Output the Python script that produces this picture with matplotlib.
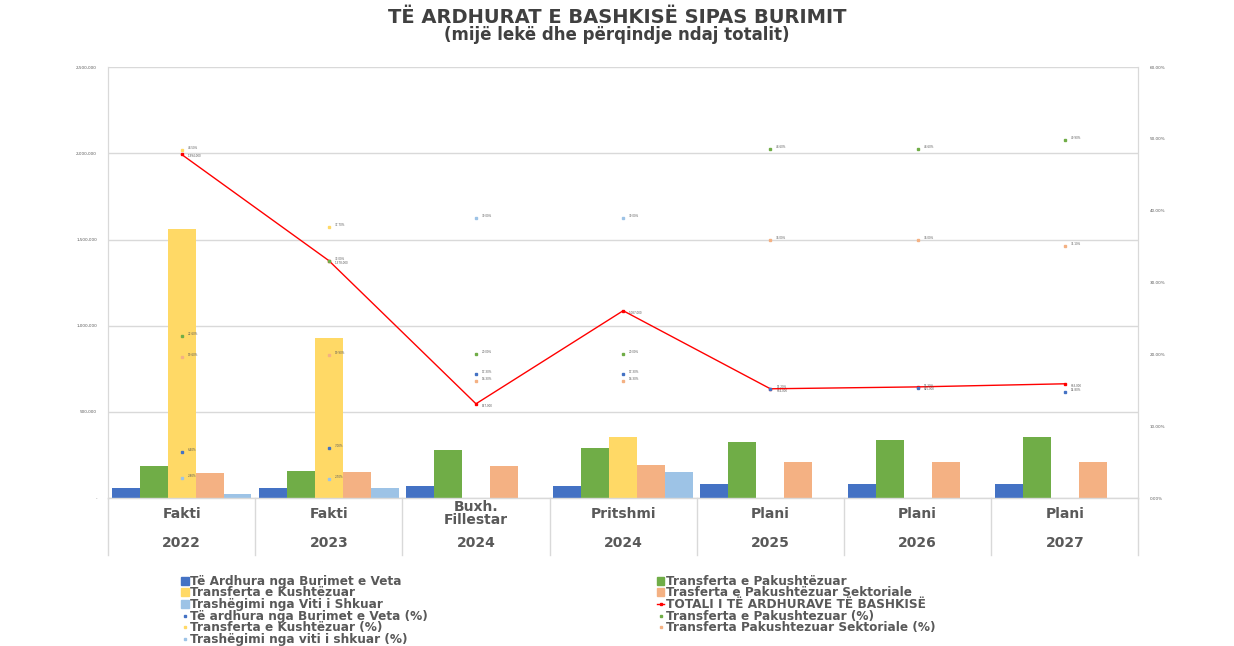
import numpy as np
import matplotlib
matplotlib.use("Agg")
import matplotlib.pyplot as plt
import matplotlib.ticker as mticker
from matplotlib.lines import Line2D
from matplotlib.patches import Patch

# te dhenat (mije leke)
cats = ["Fakti", "Fakti", "Buxh.\nFillestar", "Pritshmi", "Plani", "Plani", "Plani"]
years = ["2022", "2023", "2024", "2024", "2025", "2026", "2027"]
own = [58000, 58000, 70000, 70000, 81000, 81000, 81000]
unc = [186000, 157000, 279000, 291000, 326000, 337000, 355000]
cond = [1564000, 930000, 0, 355000, 0, 0, 0]
sect = [145000, 151000, 186000, 192000, 209000, 209000, 209000]
prev = [23000, 58000, 0, 151000, 0, 0, 0]
total = [1994000, 1378000, 547000, 1087000, 634000, 645000, 663000]

# perqindjet (boshti dytesor)
own_pct = [6.4, 7.0, 17.3, 17.3, 15.2, 15.3, 14.8]
unc_pct = [22.6, 33.0, 20.0, 20.0, 48.6, 48.6, 49.9]
cond_pct = [48.5, 37.7, np.nan, np.nan, np.nan, np.nan, np.nan]
sect_pct = [19.6, 19.9, 16.3, 16.3, 36.0, 36.0, 35.1]
prev_pct = [2.8, 2.7, 39.0, 39.0, np.nan, np.nan, np.nan]

names = ["Të Ardhura nga Burimet e Veta", "Transferta e Pakushtëzuar",
         "Transferta e Kushtëzuar", "Trasferta e Pakushtëzuar Sektoriale",
         "Trashëgimi nga Viti i Shkuar"]
pct_names = ["Të ardhura nga Burimet e Veta (%)", "Transferta e Pakushtezuar (%)",
             "Transferta e Kushtëzuar (%)", "Transferta Pakushtezuar Sektoriale (%)",
             "Trashëgimi nga viti i shkuar (%)"]
total_name = "TOTALI I TË ARDHURAVE TË BASHKISË"
colors = ["#4472C4", "#70AD47", "#FFD966", "#F4B183", "#9DC3E6"]

grey = "#595959"
fig = plt.figure(figsize=(12.34, 6.46), dpi=100)
ax = fig.add_axes([0.0875, 0.229, 0.835, 0.667])
ax2 = ax.twinx()

x = np.arange(len(cats))
w = 0.19
series = [own, unc, cond, sect, prev]
for i, s in enumerate(series):
    ax.bar(x + (i - 2) * w, s, w, color=colors[i], zorder=2)

ax.plot(x, total, color="#FF0000", lw=1, marker="s", ms=2, zorder=4)
for xi, v in zip(x, total):
    ax.text(xi + 0.04, v, f"{v:,}", fontsize=2, color=grey, va="top")

pct_series = [own_pct, unc_pct, cond_pct, sect_pct, prev_pct]
for i, s in enumerate(pct_series):
    ax2.plot(x, s, ls="none", marker="s", ms=1.5, color=colors[i])
    for xi, v in zip(x, s):
        if not np.isnan(v):
            ax2.text(xi + 0.04, v, f"{v:.2f}%", fontsize=2, color=grey, va="bottom")

ax.set_xlim(-0.5, 6.5)
ax.set_ylim(0, 2500000)
ax2.set_ylim(0, 60)
ax.yaxis.set_major_locator(mticker.MultipleLocator(500000))
ax.yaxis.set_major_formatter(mticker.FuncFormatter(lambda v, p: "-" if v == 0 else f"{v:,.0f}"))
ax2.yaxis.set_major_locator(mticker.MultipleLocator(10))
ax2.yaxis.set_major_formatter(mticker.FuncFormatter(lambda v, p: f"{v:.2f}%"))
ax.tick_params(axis="y", length=0, labelsize=3, labelcolor=grey, pad=8)
ax2.tick_params(axis="y", length=0, labelsize=3, labelcolor=grey, pad=8)
ax.grid(axis="y", color="#D9D9D9", lw=1, zorder=0)
ax.set_axisbelow(True)
for sp in ["top", "bottom"]:
    ax.spines[sp].set_visible(False)
    ax2.spines[sp].set_visible(False)
for sp in ["left", "right"]:
    ax.spines[sp].set_color("#D9D9D9")
    ax2.spines[sp].set_color("#D9D9D9")

# boshti i kategorive me dy nivele
ax.set_xticks([])
trans = ax.get_xaxis_transform()
ax.plot([-0.5, 6.5], [0, 0], color="#D9D9D9", lw=1, transform=trans, clip_on=False)
for b in np.arange(-0.5, 7, 1):
    ax.plot([b, b], [0, -0.132], color="#D9D9D9", lw=1, transform=trans, clip_on=False)
for xi, c, yr in zip(x, cats, years):
    ax.text(xi, -0.036, c, transform=trans, ha="center", va="center", fontsize=10,
            fontweight="bold", color=grey, linespacing=0.95)
    ax.text(xi, -0.104, yr, transform=trans, ha="center", va="center", fontsize=10,
            fontweight="bold", color=grey)

fig.text(0.5, 0.973, "TË ARDHURAT E BASHKISË SIPAS BURIMIT", ha="center", va="center",
         fontsize=14, fontweight="bold", color="#404040")
fig.text(0.5, 0.946, "(mijë lekë dhe përqindje ndaj totalit)", ha="center", va="center",
         fontsize=12, fontweight="bold", color="#404040")

# legjenda
bar_h = [Patch(color=c) for c in colors]
pct_h = [Line2D([], [], ls="none", marker="s", ms=1.5, color=c) for c in colors]
tot_h = Line2D([], [], color="#FF0000", lw=1, marker="s", ms=2)
col1 = [bar_h[0], bar_h[2], bar_h[4], pct_h[0], pct_h[2], pct_h[4]]
col1_l = [names[0], names[2], names[4], pct_names[0], pct_names[2], pct_names[4]]
col2 = [bar_h[1], bar_h[3], tot_h, pct_h[1], pct_h[3]]
col2_l = [names[1], names[3], total_name, pct_names[1], pct_names[3]]
leg = fig.legend(col1 + col2, col1_l + col2_l, ncol=2, loc="upper left",
                 bbox_to_anchor=(0.147, 0.11), frameon=False, fontsize=8.7,
                 handlelength=0.6, handleheight=0.6, handletextpad=0.1,
                 labelspacing=-0.12, columnspacing=19, borderpad=0, borderaxespad=0)
for t in leg.get_texts():
    t.set_color(grey)
    t.set_fontweight("bold")

fig.savefig("out.png", dpi=100)
